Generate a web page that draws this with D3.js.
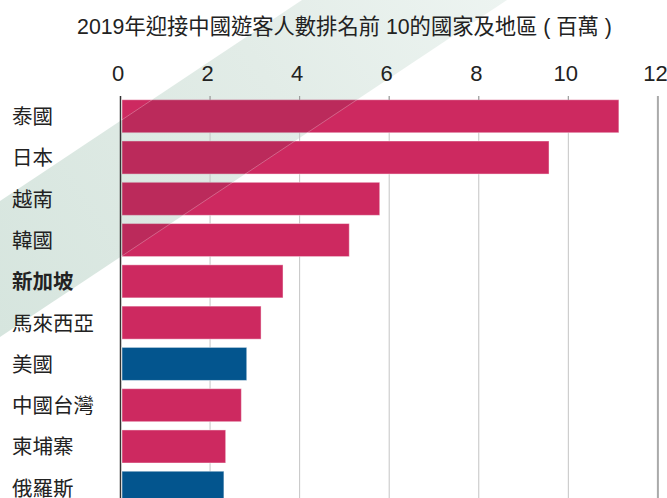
<!DOCTYPE html>
<html>
<head>
<meta charset="utf-8">
<script src="https://cdn.jsdelivr.net/npm/d3@7"></script>
<style>
html,body{margin:0;padding:0;background:#fff;}
svg{display:block;}
</style>
</head>
<body>
<svg id="chart" width="667" height="498"></svg>
<script>
const title = "2019年迎接中國遊客人數排名前 10的國家及地區 ( 百萬 )";
const categories = ["泰國","日本","越南","韓國","新加坡","馬來西亞","美國","中國台灣","柬埔寨","俄羅斯"];
const values = [11.14, 9.58, 5.80, 5.12, 3.64, 3.15, 2.83, 2.71, 2.36, 2.32];
const groups = ["asia","asia","asia","asia","asia","asia","other","asia","asia","other"];
const boldCats = ["新加坡"];
const tickValues = [0, 2, 4, 6, 8, 10, 12];

const W = 667, H = 498;
const svg = d3.select("#chart");
const x = d3.scaleLinear().domain([0, 12]).range([120.5, 657.9]);
const y = d3.scaleBand().domain(categories).range([92, 512]).padding(0.175);
const color = d3.scaleOrdinal().domain(["asia","other"]).range(["#cd2960","#03558e"]);
const data = categories.map((c, i) => ({c, v: values[i], g: groups[i]}));

const defs = svg.append("defs");
const grad = defs.append("linearGradient").attr("id","bandGrad")
  .attr("gradientUnits","userSpaceOnUse").attr("x1",0).attr("y1",337).attr("x2",507).attr("y2",0);
grad.append("stop").attr("offset",0).attr("stop-color","#d6e5de");
grad.append("stop").attr("offset",0.6).attr("stop-color","#e2ece7");
grad.append("stop").attr("offset",1).attr("stop-color","#edf4f1");

// decorative diagonal band
const bandPts = [[0,201],[302,0],[507,0],[0,337]];
svg.append("polygon").attr("points", bandPts.map(p=>p.join(",")).join(" "))
  .attr("fill","url(#bandGrad)");

// gridlines
svg.append("g").selectAll("line").data(tickValues.filter(t=>t>0)).join("line")
  .attr("x1", d=>x(d)).attr("x2", d=>x(d)).attr("y1", 96).attr("y2", H)
  .attr("stroke", d=> d===12 ? "#aaaaaa" : "#c4c4c4")
  .attr("stroke-width", d=> d===12 ? 2 : 1);

// axis line
svg.append("line").attr("x1", x(0)).attr("x2", x(0)).attr("y1", 96).attr("y2", H)
  .attr("stroke","#333").attr("stroke-width",1.5);

// bars
const clip = defs.append("clipPath").attr("id","barClip");
clip.selectAll("rect").data(data).join("rect")
  .attr("x", x(0)+1).attr("y", d=>y(d.c)).attr("width", d=>x(d.v)-x(0)-1).attr("height", y.bandwidth());

svg.append("g").selectAll("rect").data(data).join("rect")
  .attr("x", x(0)+1.5).attr("y", d=>y(d.c)+0.5)
  .attr("width", d=>x(d.v)-x(0)-2).attr("height", y.bandwidth()-1)
  .attr("fill", d=>color(d.g))
  .attr("stroke","rgba(255,255,255,0.45)").attr("stroke-width",1);

// band overlay on bars
const ov = svg.append("g").attr("clip-path","url(#barClip)");
ov.append("polygon").attr("points", bandPts.map(p=>p.join(",")).join(" "))
  .attr("fill","rgba(25,60,45,0.1)");
ov.append("line").attr("x1",0).attr("y1",201).attr("x2",302).attr("y2",0)
  .attr("stroke","rgba(255,255,255,0.35)").attr("stroke-width",0.8);
ov.append("line").attr("x1",0).attr("y1",337).attr("x2",507).attr("y2",0)
  .attr("stroke","rgba(255,255,255,0.35)").attr("stroke-width",0.8);

// category labels
svg.append("g").selectAll("text").data(data).join("text")
  .attr("x", 12).attr("y", d=>y(d.c)+y.bandwidth()/2 + 0.5)
  .attr("dy","0.36em")
  .attr("font-family","'Noto Sans CJK TC','Noto Sans CJK SC',sans-serif")
  .attr("font-size",20.5)
  .attr("font-weight", d=> boldCats.includes(d.c) ? "bold" : "normal")
  .attr("fill","#222")
  .text(d=>d.c);

// tick labels (top axis)
const axis = d3.axisTop(x).tickValues(tickValues).tickSize(0).tickPadding(0).tickFormat(d3.format("d"));
const ag = svg.append("g").attr("transform","translate(0,81)").call(axis);
ag.select(".domain").remove();
ag.selectAll("text").attr("font-family","'Liberation Sans',Arial,sans-serif")
  .attr("font-size",22).attr("fill","#222").attr("dx",-3).attr("dy",0);

// small tick marks at top
svg.append("g").selectAll("line").data(tickValues.filter(t=>t>0 && t<12)).join("line")
  .attr("x1", d=>x(d)).attr("x2", d=>x(d)).attr("y1", 96).attr("y2", 100)
  .attr("stroke","#999").attr("stroke-width",1);

// title
svg.append("text").attr("x", 344.5).attr("y", 34).attr("text-anchor","middle")
  .attr("font-family","'Liberation Sans','Noto Sans CJK TC',sans-serif")
  .attr("font-size",21.3).attr("fill","#222")
  .text(title);
</script>
</body>
</html>
